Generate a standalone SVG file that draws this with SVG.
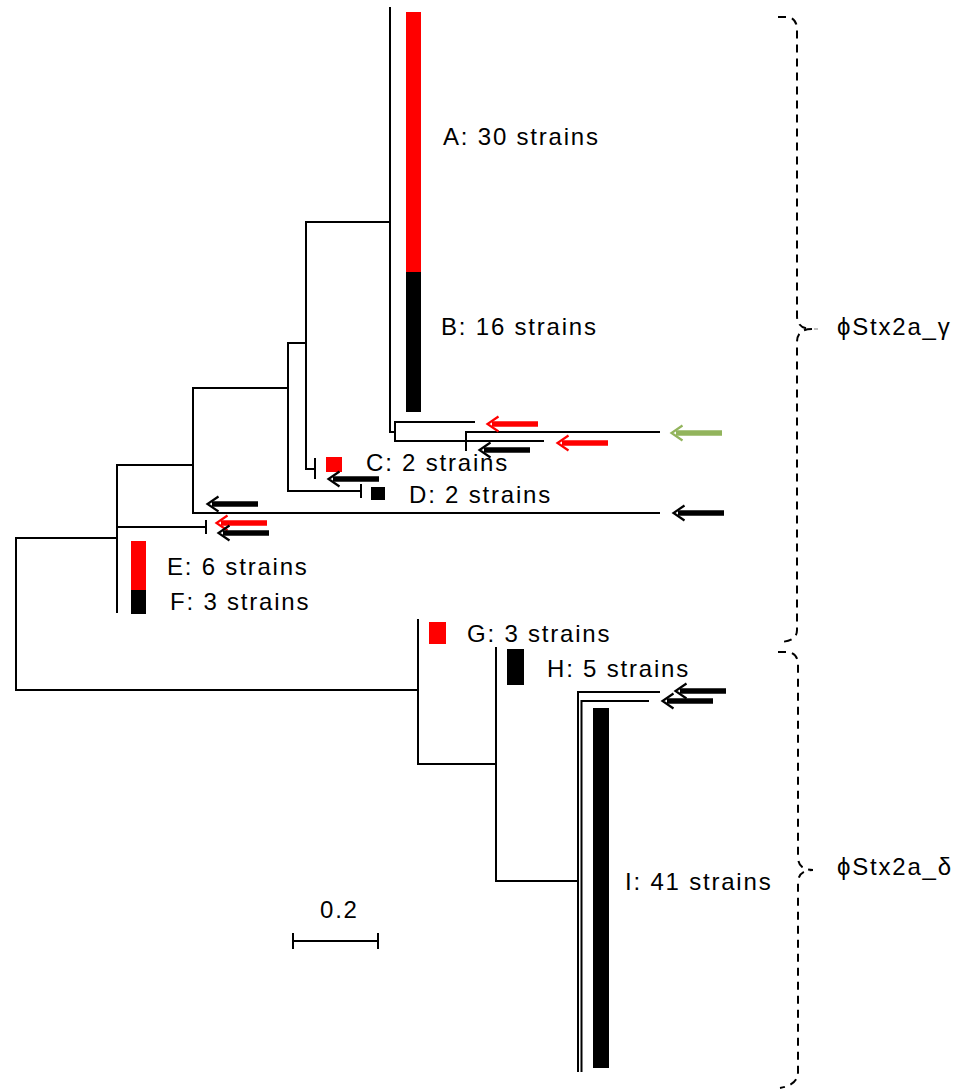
<svg xmlns="http://www.w3.org/2000/svg" width="969" height="1089" viewBox="0 0 969 1089">
<style>
.br{fill:none;stroke:#000;stroke-width:2;stroke-linecap:square}
.lbl{font-family:"Liberation Sans",Arial,sans-serif;font-size:24px;letter-spacing:1.8px;fill:#000}
.brace{fill:none;stroke:#000;stroke-width:2;stroke-dasharray:8,6}
</style>
<defs>
<g id="arrow">
<path d="M6,-2.7 H52 V2.7 H6 Z" fill="currentColor"/>
<path d="M12.5,-7.5 L1.5,0 L12.5,7.5" fill="none" stroke="currentColor" stroke-width="2.2"/>
</g>
</defs>
<rect width="969" height="1089" fill="#fff"/>
<g id="connectors">
<path class="br" d="M16,538 V690 M16,538 H117 M16,690 H418"/>
<path class="br" d="M117,465 V612 M117,527 H206 M206,521 V533 M117,465 H193 M193,388 V513 H659"/>
<path class="br" d="M193,388 H288 M288,343 V491 H361 M361,485 V497 M288,343 H306 M306,222 V469 H315 M315,459 V478"/>
<path class="br" d="M306,222 H390 M390,8 V432 H395 M395,422 V441 M395,422 H474 M395,441 H543 M466,432 V450 M466,432 H659"/>
<path class="br" d="M418,620 V764 H496 M496,648 V881 H578 M578,692 V1071 M578,692 H659 M581.5,701 V1071 M581.5,701 H648"/>
</g>
<g id="cladeAB"><rect x="406" y="12" width="15" height="260" fill="#ff0000"/><rect x="406" y="272" width="15" height="140" fill="#000"/><text class="lbl" x="443" y="145">A: 30 strains</text><text class="lbl" x="441" y="335">B: 16 strains</text></g>
<g id="cladeC"><rect x="326" y="457" width="16" height="15" fill="#ff0000"/><text class="lbl" x="366" y="471">C: 2 strains</text></g>
<g id="cladeD"><rect x="371" y="487" width="14" height="13" fill="#000"/><text class="lbl" x="409" y="503">D: 2 strains</text></g>
<g id="cladeEF"><rect x="131" y="541" width="15" height="49" fill="#ff0000"/><rect x="131" y="590" width="15" height="24" fill="#000"/><text class="lbl" x="167" y="575">E: 6 strains</text><text class="lbl" x="170" y="610">F: 3 strains</text></g>
<g id="cladeG"><rect x="429" y="622" width="17" height="22" fill="#ff0000"/><text class="lbl" x="467" y="642">G: 3 strains</text></g>
<g id="cladeH"><rect x="507" y="649" width="17" height="36" fill="#000"/><text class="lbl" x="547" y="677">H: 5 strains</text></g>
<g id="cladeI"><rect x="593" y="708" width="16" height="360" fill="#000"/><text class="lbl" x="625" y="890">I: 41 strains</text></g>
<g id="arrows">
<use href="#arrow" x="486" y="424" color="#ff0000"/>
<use href="#arrow" x="556" y="443" color="#ff0000"/>
<use href="#arrow" x="670" y="433" color="#92b45c"/>
<use href="#arrow" x="478" y="450" color="#000"/>
<use href="#arrow" x="327" y="479" color="#000"/>
<use href="#arrow" x="672" y="513" color="#000"/>
<use href="#arrow" x="206" y="504" color="#000"/>
<use href="#arrow" x="215" y="523" color="#ff0000"/>
<use href="#arrow" x="217" y="533" color="#000"/>
<use href="#arrow" x="674" y="691" color="#000"/>
<use href="#arrow" x="661" y="701" color="#000"/>
</g>
<g id="groupGamma">
<path class="brace" d="M778,17 H786 Q797,17 797,30 V316 Q797,329 812,329 Q797,329 797,342 V630 Q797,642 778,642"/>
<line x1="814" y1="329" x2="818" y2="329" stroke="#aaa" stroke-width="1.5"/>
<text class="lbl" x="837" y="335">ϕStx2a_γ</text>
</g>
<g id="groupDelta">
<path class="brace" d="M778,652 H786 Q798,652 798,665 V857 Q798,870 813,870 Q798,870 798,883 V1072 Q798,1085 780,1088"/>
<text class="lbl" x="837" y="875">ϕStx2a_δ</text>
</g>
<g id="scalebar">
<path class="br" d="M293,941 H378 M293,934 V948 M378,934 V948"/>
<text class="lbl" x="320" y="918">0.2</text>
</g>
</svg>
